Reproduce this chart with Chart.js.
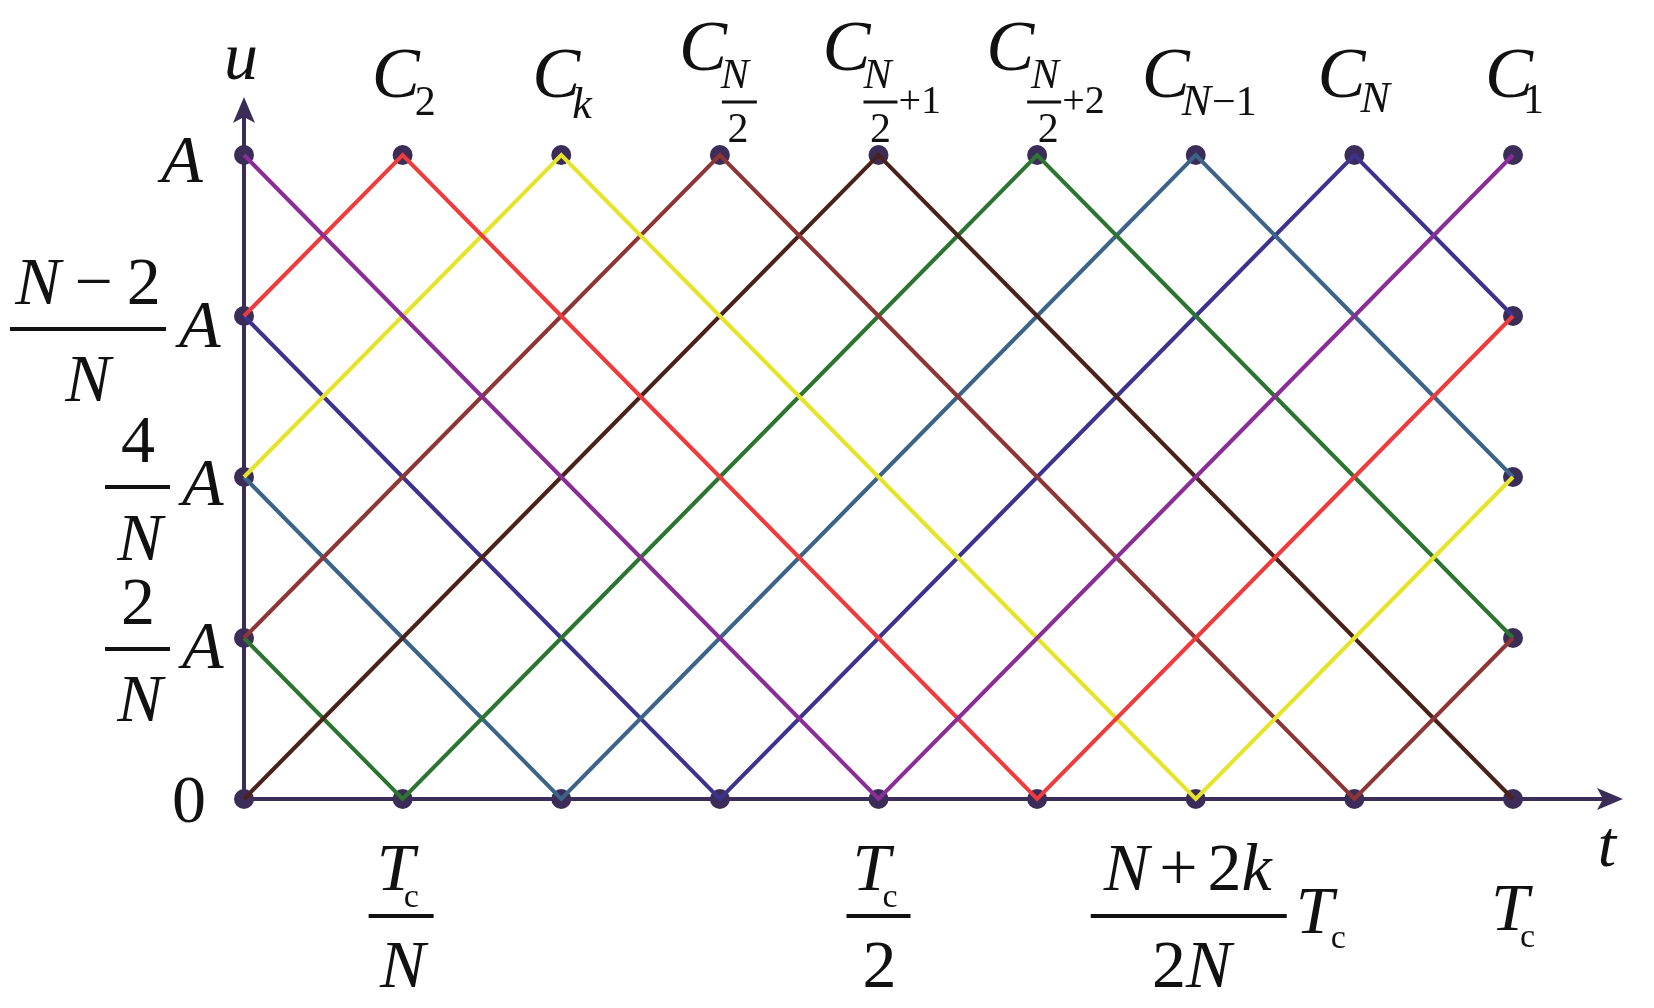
<!DOCTYPE html>
<html>
<head>
<meta charset="utf-8">
<script src="https://cdn.jsdelivr.net/npm/chart.js@4.4.1/dist/chart.umd.min.js"></script>
<style>
  html, body { margin: 0; padding: 0; background: #fff; }
  #wrap { width: 1654px; height: 1008px; position: relative; }
</style>
</head>
<body>
<div id="wrap"><canvas id="chart"></canvas></div>
<script>
  // time steps (multiples of Tc/N) and amplitude levels (multiples of 2A/N, top = A)
  var steps = [0, 1, 2, 3, 4, 5, 6, 7, 8];
  var levels = [0, 1, 2, 3, 4];

  // one triangular carrier per capacitor, value at each step
  var cOne = [4, 3, 2, 1, 0, 1, 2, 3, 4];
  var cTwo = [3, 4, 3, 2, 1, 0, 1, 2, 3];
  var cK = [2, 3, 4, 3, 2, 1, 0, 1, 2];
  var cHalf = [1, 2, 3, 4, 3, 2, 1, 0, 1];
  var cHalfPlus1 = [0, 1, 2, 3, 4, 3, 2, 1, 0];
  var cHalfPlus2 = [1, 0, 1, 2, 3, 4, 3, 2, 1];
  var cNminus1 = [2, 1, 0, 1, 2, 3, 4, 3, 2];
  var cN = [3, 2, 1, 0, 1, 2, 3, 4, 3];

  // vertices marked with a dot
  var dotX = [0, 1, 2, 3, 4, 5, 6, 7, 8, 0, 1, 2, 3, 4, 5, 6, 7, 8, 0, 0, 0, 8, 8, 8];
  var dotY = [0, 0, 0, 0, 0, 0, 0, 0, 0, 4, 4, 4, 4, 4, 4, 4, 4, 4, 1, 2, 3, 1, 2, 3];

  var AXIS = "#3c2d58";
  var INK = "#111";
  var SERIF = '"Liberation Serif", "Times New Roman", serif';

  function pts(arr) {
    return steps.map(function (s, i) { return { x: s, y: arr[i] }; });
  }

  function lineSet(label, arr, color) {
    return {
      label: label, data: pts(arr), borderColor: color, backgroundColor: color,
      borderWidth: 4, pointRadius: 0, tension: 0, clip: false, order: 1
    };
  }

  function font(size, it) { return (it ? "italic " : "") + size + "px " + SERIF; }

  // parts: [text, size, italic, dx, dy]
  function run(ctx, parts, x, y, center) {
    var w = 0;
    parts.forEach(function (p) { ctx.font = font(p[1], p[2]); w += ctx.measureText(p[0]).width + (p[3] || 0); });
    var cx = center ? x - w / 2 : x;
    parts.forEach(function (p) {
      ctx.font = font(p[1], p[2]);
      cx += (p[3] || 0);
      ctx.fillText(p[0], cx, y + (p[4] || 0));
      cx += ctx.measureText(p[0]).width;
    });
    return w;
  }

  function bar(ctx, x1, x2, y, t) {
    t = t || 4;
    ctx.fillRect(x1, y - t / 2, x2 - x1, t);
  }

  var axesPlugin = {
    id: "axes",
    beforeDatasetsDraw: function (chart) {
      var ctx = chart.ctx, xs = chart.scales.x, ys = chart.scales.y;
      var ox = xs.getPixelForValue(0), oy = ys.getPixelForValue(0);
      var tipY = ys.getPixelForValue(4) - 58;
      var tipX = xs.getPixelForValue(8) + 110;
      ctx.save();
      ctx.strokeStyle = AXIS;
      ctx.fillStyle = AXIS;
      ctx.lineWidth = 4;
      ctx.beginPath();
      ctx.moveTo(ox, oy); ctx.lineTo(ox, tipY + 18);
      ctx.moveTo(ox, oy); ctx.lineTo(tipX - 18, oy);
      ctx.stroke();
      ctx.beginPath();
      ctx.moveTo(ox, tipY); ctx.lineTo(ox + 11, tipY + 26); ctx.lineTo(ox, tipY + 20); ctx.lineTo(ox - 11, tipY + 26);
      ctx.closePath(); ctx.fill();
      ctx.beginPath();
      ctx.moveTo(tipX, oy); ctx.lineTo(tipX - 26, oy - 11); ctx.lineTo(tipX - 20, oy); ctx.lineTo(tipX - 26, oy + 11);
      ctx.closePath(); ctx.fill();
      ctx.restore();
    }
  };

  var labelPlugin = {
    id: "labels",
    afterDraw: function (chart) {
      var ctx = chart.ctx, xs = chart.scales.x, ys = chart.scales.y;
      function px(v) { return xs.getPixelForValue(v); }
      function py(v) { return ys.getPixelForValue(v); }
      var ax = px(0);
      ctx.save();
      ctx.fillStyle = INK;
      ctx.textBaseline = "alphabetic";
      ctx.textAlign = "left";

      // axis names
      run(ctx, [["u", 68, true]], ax - 3, py(4) - 76, true);
      run(ctx, [["t", 66, true]], px(8) + 94, py(0) + 67, true);

      // y labels
      run(ctx, [["A", 68, true]], ax - 62, py(4) + 27, true);
      run(ctx, [["0", 68, false]], ax - 55, py(0) + 23, true);

      var b3 = py(3) + 13;
      bar(ctx, ax - 234, ax - 78, b3);
      run(ctx, [["N", 68, true], ["\u2212", 68, false, 14], ["2", 68, false, 14]], ax - 156, b3 - 25, true);
      run(ctx, [["N", 68, true]], ax - 156, b3 + 72, true);
      run(ctx, [["A", 68, true]], ax - 65, py(3) + 31);

      var b2 = py(2) + 10;
      bar(ctx, ax - 139, ax - 74, b2);
      run(ctx, [["4", 68, false]], ax - 106, b2 - 25, true);
      run(ctx, [["N", 68, true]], ax - 104, b2 + 73, true);
      run(ctx, [["A", 68, true]], ax - 62, py(2) + 28);

      var b1 = py(1) + 11;
      bar(ctx, ax - 139, ax - 74, b1);
      run(ctx, [["2", 68, false]], ax - 106, b1 - 25, true);
      run(ctx, [["N", 68, true]], ax - 104, b1 + 72, true);
      run(ctx, [["A", 68, true]], ax - 62, py(1) + 30);

      // x labels
      var bx = py(0) + 117;
      var x1 = px(1);
      bar(ctx, x1 - 34, x1 + 31, bx);
      run(ctx, [["T", 68, true]], x1 - 26, bx - 26);
      run(ctx, [["c", 34, false]], x1 + 1, bx - 9);
      run(ctx, [["N", 68, true]], x1, bx + 71, true);

      var x4 = px(4);
      bar(ctx, x4 - 32, x4 + 32, bx);
      run(ctx, [["T", 68, true]], x4 - 26, bx - 26);
      run(ctx, [["c", 34, false]], x4 + 4, bx - 9);
      run(ctx, [["2", 68, false]], x4 + 1, bx + 71, true);

      var x6 = px(6);
      bar(ctx, x6 - 105, x6 + 91, bx);
      run(ctx, [["N", 68, true], ["+", 68, false, 10], ["2", 68, false, 10], ["k", 68, true]], x6 - 8, bx - 26, true);
      run(ctx, [["2", 68, false], ["N", 68, true]], x6 - 4, bx + 71, true);
      run(ctx, [["T", 68, true]], x6 + 100, bx + 17);
      run(ctx, [["c", 34, false]], x6 + 135, bx + 32);

      var x8 = px(8);
      run(ctx, [["T", 68, true]], x8 - 22, bx + 14);
      run(ctx, [["c", 34, false]], x8 + 7, bx + 31);

      // carrier names above the peaks
      var top = py(4);
      var cb = top - 58, fb = top - 85;
      function cSimple(i, dxC, sub, dxS, sb) {
        var x = px(i);
        run(ctx, [["C", 72, true]], x + dxC, cb);
        run(ctx, sub, x + dxS, top + sb);
      }
      cSimple(1, -31, [["2", 42, false]], 12, -40);
      cSimple(2, -29, [["k", 44, true]], 11, -37);
      cSimple(6, -54, [["N", 44, true], ["\u2212", 42, false, 1], ["1", 42, false]], -14, -40);
      cSimple(7, -37, [["N", 44, true]], 6, -43);
      cSimple(8, -28, [["1", 42, false]], 10, -42);

      function cFrac(i, dxC, nx, b1x, b2x, extra) {
        var x = px(i);
        run(ctx, [["C", 72, true]], x + dxC, fb);
        run(ctx, [["N", 42, true]], x + nx, top - 67, true);
        bar(ctx, x + b1x, x + b2x, top - 53, 3);
        run(ctx, [["2", 42, false]], x + nx + 3, top - 13, true);
        if (extra) run(ctx, [[extra, 40, false]], x + b2x + 1, top - 42);
      }
      cFrac(3, -41, 15, 2, 37, null);
      cFrac(4, -56, -1, -15, 19, "+1");
      cFrac(5, -51, 8, -10, 24, "+2");

      ctx.restore();
    }
  };

  var dots = {
    label: "vertices",
    data: dotX.map(function (x, i) { return { x: x, y: dotY[i] }; }),
    showLine: false, pointRadius: 10, pointHoverRadius: 10, pointBorderWidth: 0,
    pointBackgroundColor: AXIS, borderColor: AXIS, clip: false, order: 5
  };

  new Chart(document.getElementById("chart"), {
    type: "line",
    data: {
      datasets: [
        lineSet("C1", cOne, "#8a2d96"),
        lineSet("C2", cTwo, "#ee3b3b"),
        lineSet("Ck", cK, "#e6e42a"),
        lineSet("C N/2", cHalf, "#8e3535"),
        lineSet("C N/2+1", cHalfPlus1, "#4a2219"),
        lineSet("C N/2+2", cHalfPlus2, "#2b7530"),
        lineSet("C N-1", cNminus1, "#3b6488"),
        lineSet("C N", cN, "#3c338e"),
        dots
      ]
    },
    options: {
      responsive: true,
      maintainAspectRatio: false,
      animation: false,
      events: [],
      layout: { padding: { left: 244, right: 141, top: 155, bottom: 209 } },
      plugins: { legend: { display: false }, tooltip: { enabled: false } },
      scales: {
        x: { type: "linear", min: steps[0], max: steps[steps.length - 1], display: false },
        y: { type: "linear", min: levels[0], max: levels[levels.length - 1], display: false }
      }
    },
    plugins: [axesPlugin, labelPlugin]
  });
</script>
</body>
</html>
